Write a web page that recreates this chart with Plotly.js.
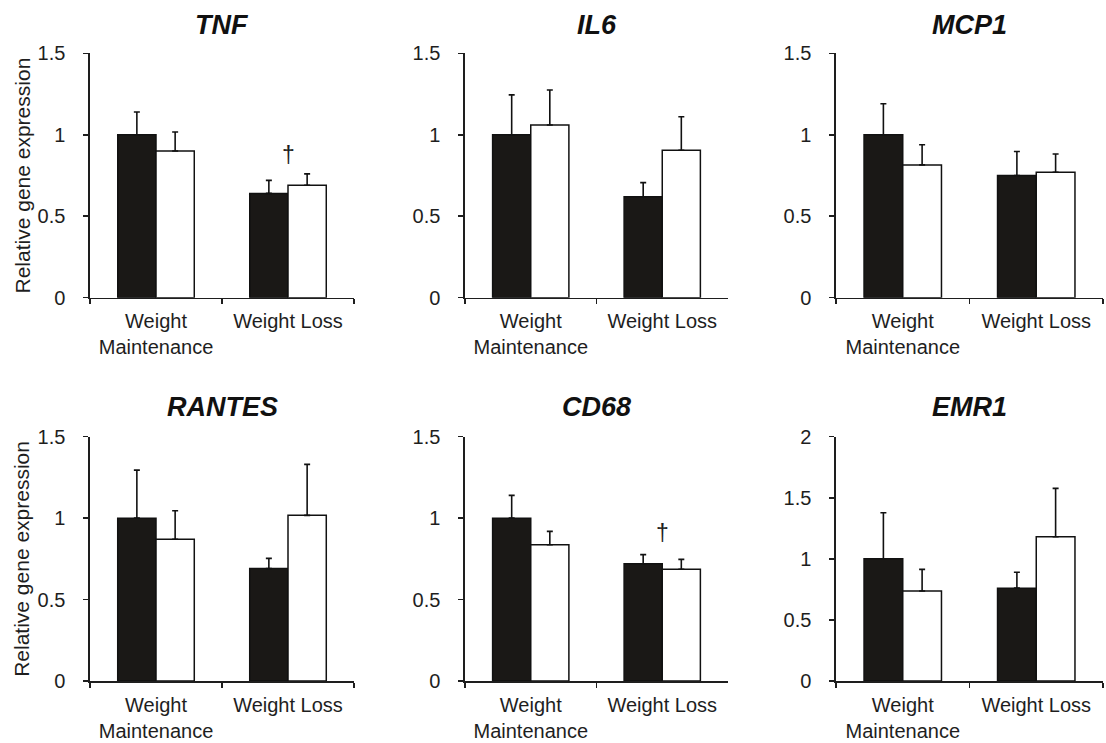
<!DOCTYPE html>
<html>
<head>
<meta charset="utf-8">
<script src="https://cdn.plot.ly/plotly-3.0.1.min.js"></script>
<style>html,body{margin:0;padding:0;background:#fff;}#chart{width:1106px;height:743px;}</style>
</head>
<body>
<div id="chart"></div>
<script>
// ---- data ----
var categories = ["Weight<br>Maintenance", "Weight Loss"];
var genes = ["TNF", "IL6", "MCP1", "RANTES", "CD68", "EMR1"];
var yAxisTitle = "Relative gene expression";
// black bars
var blackMeans = [[1.00, 0.64], [1.00, 0.62], [1.00, 0.75], [1.00, 0.69], [1.00, 0.72], [1.00, 0.76]];
var blackErr   = [[0.14, 0.08], [0.245, 0.086], [0.19, 0.147], [0.295, 0.063], [0.14, 0.056], [0.377, 0.13]];
// white bars
var whiteMeans = [[0.90, 0.69], [1.06, 0.905], [0.815, 0.77], [0.87, 1.017], [0.837, 0.686], [0.737, 1.181]];
var whiteErr   = [[0.117, 0.07], [0.215, 0.206], [0.124, 0.112], [0.175, 0.313], [0.082, 0.061], [0.177, 0.396]];
var yMax = [1.5, 1.5, 1.5, 1.5, 1.5, 2];
// significance markers (dagger) above the Weight Loss group
var daggerGenes = ["TNF", "CD68"];
var daggerY = [0.875, 0.91];

// ---- layout geometry ----
var W = 1106, H = 743;
var colPx = [[90, 354], [465, 728], [836, 1103]];
var rowPx = [[53.3, 297.7], [436.7, 681]];
var titleYPx = [25, 407];

var traces = [];
var layout = {
  width: W, height: H,
  margin: {l: 0, r: 0, t: 0, b: 0},
  paper_bgcolor: "#fff", plot_bgcolor: "#fff",
  showlegend: false,
  barmode: "group",
  bargap: 0.42,
  bargroupgap: 0,
  font: {family: "Liberation Sans, Arial, sans-serif", color: "#1e1e1e"},
  annotations: []
};

genes.forEach(function (g, i) {
  var n = i + 1;
  var xa = "x" + (n === 1 ? "" : n), ya = "y" + (n === 1 ? "" : n);
  var col = i % 3, row = Math.floor(i / 3);
  var errStyle = {color: "#111", thickness: 1.6, width: 3};
  traces.push({
    type: "bar", x: categories, y: blackMeans[i], xaxis: xa, yaxis: ya,
    name: "Black", marker: {color: "#1a1816", line: {color: "#111", width: 1.5}},
    error_y: Object.assign({type: "data", symmetric: false, array: blackErr[i], arrayminus: [0, 0]}, errStyle),
    hoverinfo: "y"
  });
  traces.push({
    type: "bar", x: categories, y: whiteMeans[i], xaxis: xa, yaxis: ya,
    name: "White", marker: {color: "#ffffff", line: {color: "#111", width: 1.5}},
    error_y: Object.assign({type: "data", symmetric: false, array: whiteErr[i], arrayminus: [0, 0]}, errStyle),
    hoverinfo: "y"
  });
  var xKey = "xaxis" + (n === 1 ? "" : n), yKey = "yaxis" + (n === 1 ? "" : n);
  layout[xKey] = {
    domain: [colPx[col][0] / W, colPx[col][1] / W],
    anchor: ya, type: "category", range: [-0.5, 1.5],
    showline: true, linecolor: "#1e1e1e", linewidth: 1.6,
    ticks: "outside", tickson: "boundaries", ticklen: 5, tickwidth: 1.5, tickcolor: "#1e1e1e",
    tickfont: {size: 20, color: "#1e1e1e"}, ticklabelstandoff: 5,
    showgrid: false, zeroline: false, fixedrange: true, automargin: false
  };
  layout[yKey] = {
    domain: [1 - rowPx[row][1] / H, 1 - rowPx[row][0] / H],
    anchor: xa, range: [0, yMax[i]], dtick: 0.5, tick0: 0,
    showline: true, linecolor: "#1e1e1e", linewidth: 1.6,
    ticks: "outside", ticklen: 5, tickwidth: 1.5, tickcolor: "#1e1e1e",
    tickfont: {size: 20, color: "#1e1e1e"}, ticklabelstandoff: 14,
    showgrid: false, zeroline: false, fixedrange: true, automargin: false
  };
  if (col === 0) {
    layout.annotations.push({
      text: yAxisTitle, textangle: -90, xref: "paper", x: 22 / W,
      yref: ya + " domain", y: 0.5, xanchor: "center", yanchor: "middle",
      showarrow: false, font: {size: 21, color: "#1e1e1e"}
    });
  }
  layout.annotations.push({
    text: "<b><i>" + g + "</i></b>", xref: xa + " domain", x: 0.5,
    yref: "paper", y: 1 - titleYPx[row] / H, xanchor: "center", yanchor: "middle",
    showarrow: false, font: {size: 27, color: "#111"}
  });
  var d = daggerGenes.indexOf(g);
  if (d >= 0) {
    layout.annotations.push({
      text: "†", xref: xa, x: categories[1], yref: ya, y: daggerY[d],
      xanchor: "center", yanchor: "middle", showarrow: false,
      font: {size: 23, color: "#1e1e1e"}
    });
  }
});

Plotly.newPlot("chart", traces, layout, {displayModeBar: false, staticPlot: true});
</script>
</body>
</html>
